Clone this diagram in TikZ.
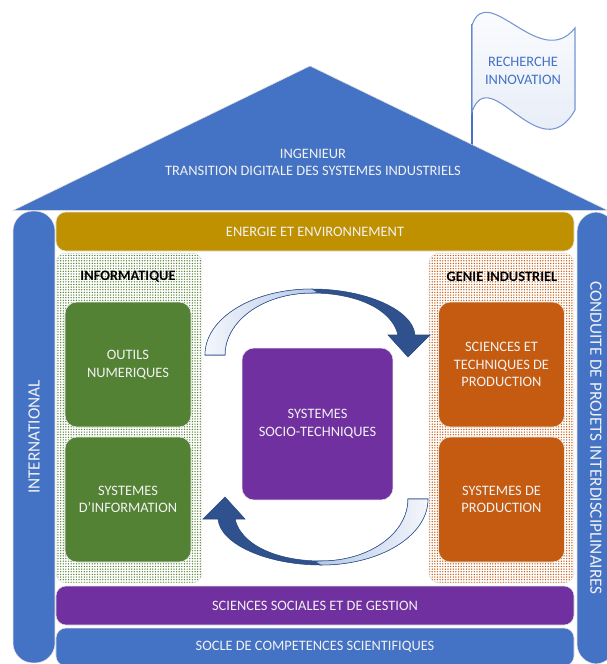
\documentclass[tikz,border=0pt]{standalone}
\usepackage{fontspec}
\setmainfont{Carlito}
\usepackage{tikz}
\usetikzlibrary{shapes,arrows,patterns.meta}
\usepackage{color}

\definecolor{bleu}{HTML}{4472C4}
\definecolor{ocre}{HTML}{BF9000}
\definecolor{vert}{HTML}{548235}
\definecolor{rouille}{HTML}{C55A11}
\definecolor{pourpre}{HTML}{7030A0}
\definecolor{fleche}{HTML}{2F528F}
\definecolor{flecheclair}{HTML}{B4C7E7}
\definecolor{texte}{HTML}{F2F2F2}

\begin{document}
\begin{tikzpicture}[x=0.02cm, y=-0.02cm,
                    font=\fontsize{8.2}{10}\selectfont,
                    bloc/.style={rounded corners=0.24cm, minimum width=\boxw cm, minimum height=\boxh cm,
                                 text=texte, align=center, draw=black!10, line width=0.3pt},
                    bande/.style={rounded corners=0.2cm, minimum width=\bandw cm, minimum height=0.78cm,
                                  text=texte, draw=black!10, line width=0.3pt},
                    colonne/.style={fill=bleu, rounded corners=0.4cm, minimum width=9.04cm, minimum height=0.84cm,
                                    text=texte, draw=black!10, line width=0.3pt, font=\fontsize{9.8}{12}\selectfont},
                    panneau/.style={rounded corners=0.2cm, minimum width=2.92cm, minimum height=6.6cm,
                                    draw=black!12, line width=0.3pt},
                    points/.style={pattern={Dots[distance=1.5pt, radius=0.42pt]}, pattern color=#1},
                    titre/.style={font=\bfseries\fontsize{8.2}{10}\selectfont, text=black},
                    ombre/.style={fill=fleche, draw=fleche!85!black, line width=0.3pt}]
                   % Sizes
                   \pgfmathsetmacro{\boxw}{126*0.02}
                   \pgfmathsetmacro{\boxh}{125*0.02}
                   \pgfmathsetmacro{\bandw}{518*0.02}
                   \useasboundingbox (0,0) rectangle (607,664);

                   % flag and roof
                   \draw[bleu, line width=1.4pt] (472,24) -- (472,150);
                   \shade[top color=white, bottom color=bleu!16, draw=bleu!75, line width=0.6pt]
                     (472,25) .. controls (488,-20) and (540,72) .. (575,28) -- (575,110)
                     .. controls (540,172) and (490,60) .. (472,112) -- cycle;
                   \node[text=bleu, align=center] (recherche) at (523,71) {RECHERCHE\\INNOVATION};
                   \fill[bleu, draw=black!15, line width=0.3pt] (13,210.5) -- (310,66) -- (612,212.5) -- (612,210.5) -- cycle;
                   \node[text=texte, align=center] (ingenieur) at (313,162.5)
                     {INGENIEUR\\TRANSITION DIGITALE DES SYSTEMES INDUSTRIELS};

                   % columns and bands
                   \node[colonne, rotate=90] (international) at (34,437) {INTERNATIONAL};
                   \node[colonne, rotate=-90, minimum height=0.76cm] (conduite) at (596,438)
                     {CONDUITE DE PROJETS INTERDISCIPLINAIRES};
                   \node[bande, fill=ocre] (energie) at (315,231.5) {ENERGIE ET ENVIRONNEMENT};
                   \node[bande, fill=pourpre] (sociales) at (315,605.5) {SCIENCES SOCIALES ET DE GESTION};
                   \node[bande, fill=bleu, minimum height=0.76cm] (socle) at (315,647) {SOCLE DE COMPETENCES SCIENTIFIQUES};

                   % panels
                   \node[panneau, points=vert] (informatique) at (129,418) {};
                   \node[panneau, points=rouille, minimum width=2.9cm] (genie) at (501.5,418) {};
                   \node[titre] (titreinfo) at (128,277) {INFORMATIQUE};
                   \node[titre] (titregenie) at (502,277) {GENIE INDUSTRIEL};

                   % boxes
                   \node[bloc, fill=vert] (outils) at (128,364.5) {OUTILS\\NUMERIQUES};
                   \node[bloc, fill=vert] (sysinfo) at (128,499.5) {SYSTEMES\\D’INFORMATION};
                   \node[bloc, fill=rouille] (sciences) at (501.5,364.5) {SCIENCES ET\\TECHNIQUES DE\\PRODUCTION};
                   \node[bloc, fill=rouille] (sysprod) at (501.5,499.5) {SYSTEMES DE\\PRODUCTION};
                   \node[bloc, fill=pourpre, minimum width=3.02cm, minimum height=3.04cm] (socio) at (317.5,424)
                     {SYSTEMES\\SOCIO-TECHNIQUES};

                   % arrows
                   \path[ombre] (205,355) .. controls (205,318) and (253,289) .. (312,289)
                     .. controls (366,289) and (413,310) .. (415,335) -- (430,335) -- (408,357) -- (388,335) -- (398,335)
                     .. controls (392,309) and (356,293) .. (312,293)
                     .. controls (263,293) and (225,321) .. (225,355) -- cycle;
                   \shade[left color=white!94!bleu, right color=flecheclair, draw=fleche, line width=0.3pt]
                     (205,355) .. controls (205,318) and (253,289) .. (312,289) -- (318,292.5) -- (312,293)
                     .. controls (263,293) and (225,321) .. (225,355) -- cycle;
                   \path[ombre] (428,499) .. controls (428,536) and (380,565) .. (321,565)
                     .. controls (267,565) and (220,544) .. (218,519) -- (203,519) -- (225,497) -- (245,519) -- (235,519)
                     .. controls (241,545) and (277,561) .. (321,561)
                     .. controls (370,561) and (408,533) .. (408,499) -- cycle;
                   \shade[left color=flecheclair, right color=white!94!bleu, draw=fleche, line width=0.3pt]
                     (428,499) .. controls (428,536) and (380,565) .. (321,565) -- (315,561.5) -- (321,561)
                     .. controls (370,561) and (408,533) .. (408,499) -- cycle;
\end{tikzpicture}
\end{document}
